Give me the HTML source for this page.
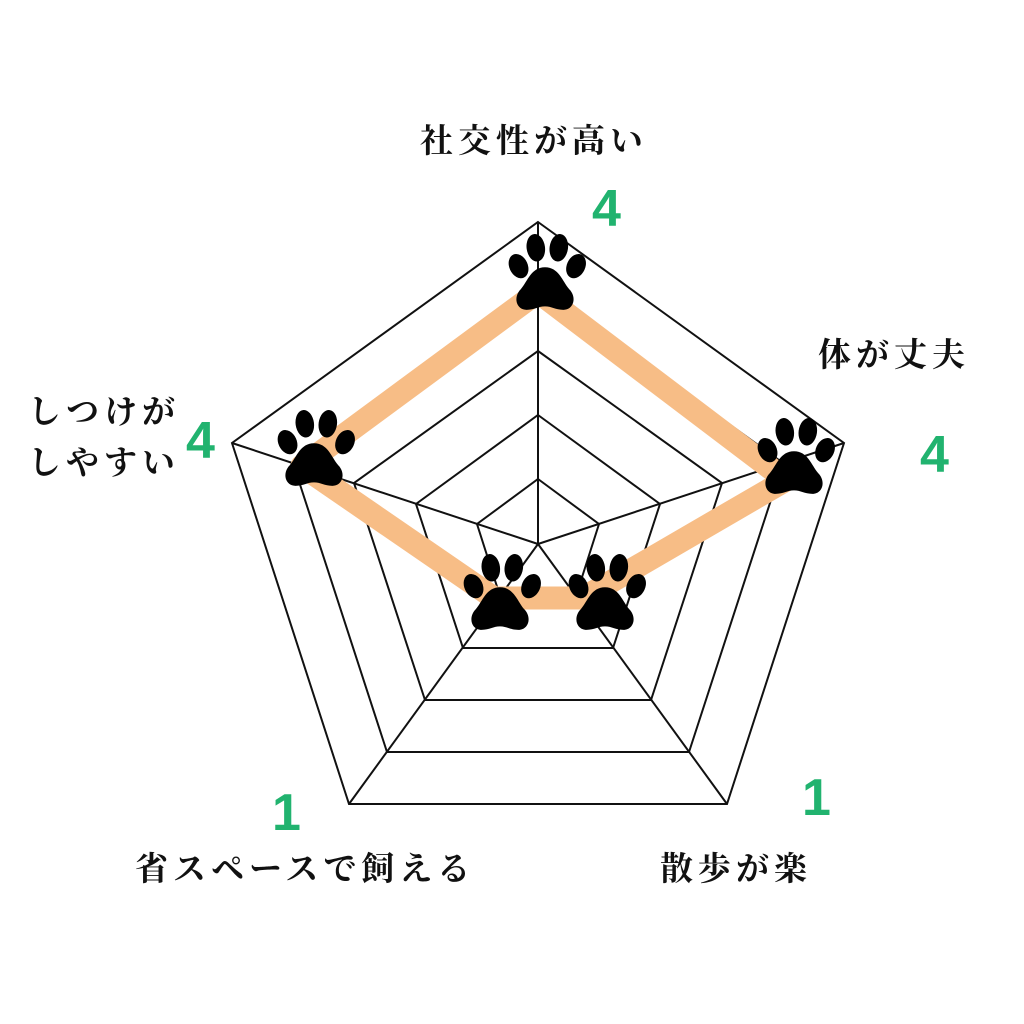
<!DOCTYPE html>
<html><head><meta charset="utf-8"><style>
html,body{margin:0;padding:0;background:#fff;}
svg{display:block}
.t{font-family:"Liberation Serif","Noto Serif CJK JP","Noto Serif CJK SC",serif;font-weight:bold;font-size:33px;fill:#111;letter-spacing:5px}
.n{font-family:"Liberation Sans","DejaVu Sans",sans-serif;font-weight:bold;font-size:52px;fill:#21b36f}
</style></head><body>
<svg width="1024" height="1024" viewBox="0 0 1024 1024">
<defs>
<g id="paw" transform="scale(1.15)">
<ellipse cx="-23" cy="-19" rx="8" ry="11" transform="rotate(-25 -23 -19)"/>
<ellipse cx="-8" cy="-35" rx="8" ry="12" transform="rotate(-8 -8 -35)"/>
<ellipse cx="12" cy="-35" rx="8" ry="12" transform="rotate(8 12 -35)"/>
<ellipse cx="27" cy="-19" rx="8" ry="11" transform="rotate(25 27 -19)"/>
<path d="M0,-18 C12,-18 15,-6 21,1 C28,8 25,19 16,19 C9,19 6,16 0,16 C-6,16 -9,19 -16,19 C-25,19 -28,8 -21,1 C-15,-6 -12,-18 0,-18Z"/>
</g>
</defs>
<g fill="none" stroke="#111" stroke-width="2" stroke-linejoin="miter">
<polygon points="538,222 844,443 727,804 349,804 232,443"/>
<polygon points="538,286 783,463 689,752 387,752 293,463"/>
<polygon points="538,351 722,483 651,700 425,700 354,483"/>
<polygon points="538,415 660,504 613,648 463,648 416,504"/>
<polygon points="538,479 599,524 576,596 500,596 477,524"/>
<line x1="538" y1="544" x2="538" y2="222"/>
<line x1="538" y1="544" x2="844" y2="443"/>
<line x1="538" y1="544" x2="232" y2="443"/>
<line x1="538" y1="544" x2="727" y2="804"/>
<line x1="538" y1="544" x2="349" y2="804"/>
</g>
<polygon points="538,292 786,480 583,598 494,598 302,466" fill="none" stroke="#f7bd86" stroke-width="23" stroke-linejoin="round"/>
<use href="#paw" x="545" y="288"/>
<use href="#paw" x="794" y="472"/>
<use href="#paw" x="500" y="608"/>
<use href="#paw" x="605" y="608"/>
<use href="#paw" x="314" y="464"/>
<text class="t" x="420" y="152">社交性が高い</text>
<text class="t" x="818" y="366">体が丈夫</text>
<text class="t" x="28" y="423">しつけが</text>
<text class="t" x="28" y="474">しやすい</text>
<text class="t" x="135" y="880">省スペースで飼える</text>
<text class="t" x="660" y="880">散歩が楽</text>
<text class="n" x="592" y="226">4</text>
<text class="n" x="920" y="472">4</text>
<text class="n" x="186" y="458">4</text>
<text class="n" x="272" y="830">1</text>
<text class="n" x="802" y="815">1</text>
</svg>
</body></html>
